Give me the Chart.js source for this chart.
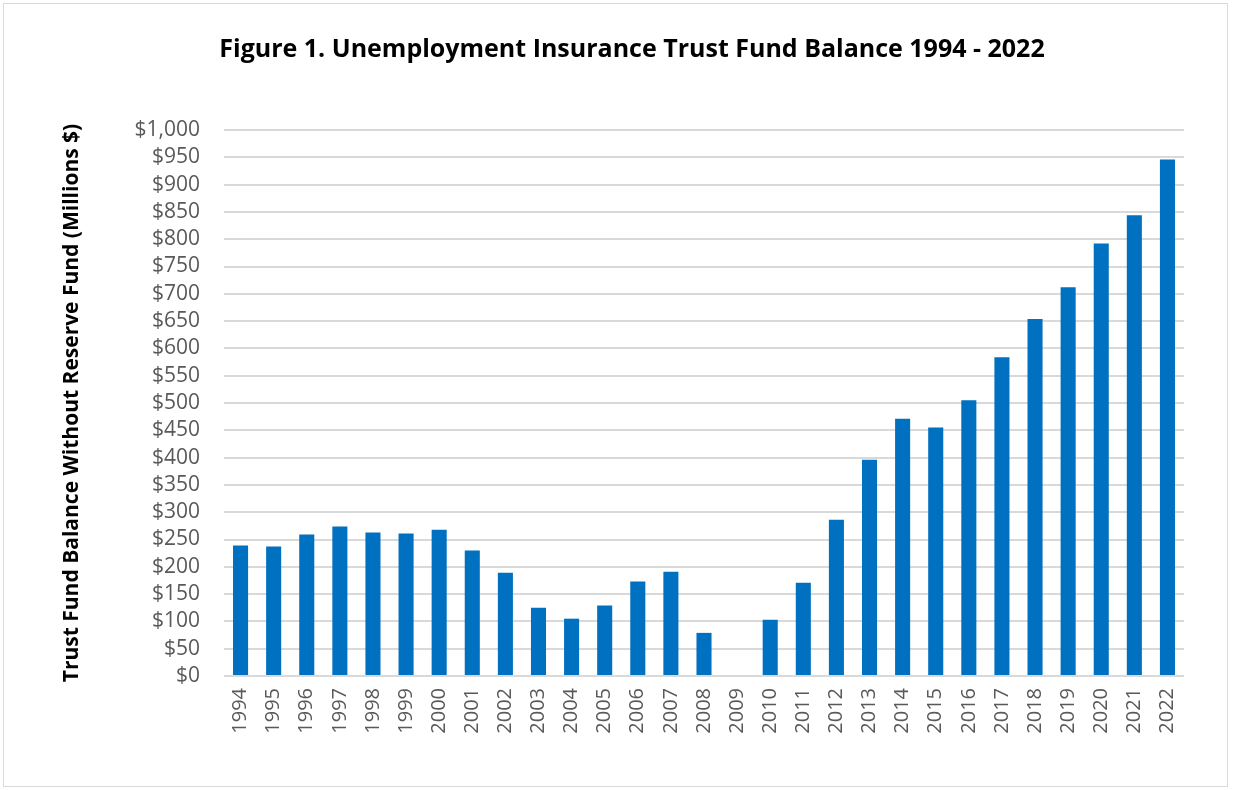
<!DOCTYPE html>
<html>
<head>
<meta charset="utf-8">
<title>Unemployment Insurance Trust Fund Balance 1994 - 2022</title>
<script src="https://cdn.jsdelivr.net/npm/chart.js@4.4.0/dist/chart.umd.min.js"></script>
<style>
    html, body { margin: 0; padding: 0; background: #fff; }
    #wrap { position: relative; width: 1233px; height: 790px; }
    #frame {
        position: absolute; left: 3px; top: 3px; width: 1223px; height: 782px;
        border: 1px solid #d9d9d9; pointer-events: none;
    }
</style>
</head>
<body>
<div id="wrap">
    <canvas id="fundChart" width="1233" height="790"></canvas>
    <div id="frame"></div>
</div>
<script>
// Data (millions $)
const years = ['1994', '1995', '1996', '1997', '1998', '1999', '2000', '2001', '2002', '2003',
    '2004', '2005', '2006', '2007', '2008', '2009', '2010', '2011', '2012', '2013',
    '2014', '2015', '2016', '2017', '2018', '2019', '2020', '2021', '2022'];
const balances = [239, 237, 259, 274, 263, 261, 268, 230, 189, 125,
    105, 129, 173, 191, 79, 0, 103, 171, 286, 396,
    471, 455, 505, 584, 654, 712, 792, 844, 946];

// Axis settings
const yMin = 0;
const yMax = 1000;
const yStep = 50;

const titleText = 'Figure 1. Unemployment Insurance Trust Fund Balance 1994 - 2022';
const yTitleText = 'Trust Fund Balance Without Reserve Fund (Millions $)';

const FONT = '"Open Sans", "DejaVu Sans", sans-serif';

// Title drawn across the whole canvas (Excel centres it on the chart, not the plot)
const pageTitle = {
    id: 'pageTitle',
    afterDraw(chart) {
        const ctx = chart.ctx;
        ctx.save();
        ctx.font = 'bold 25px ' + FONT;
        ctx.fillStyle = '#000';
        ctx.textAlign = 'center';
        ctx.textBaseline = 'middle';
        ctx.fillText(titleText, 632, 50);
        ctx.restore();
    }
};

new Chart(document.getElementById('fundChart'), {
    type: 'bar',
    data: {
        labels: years,
        datasets: [{
            data: balances,
            backgroundColor: '#0070c0',
            borderWidth: 0,
            barPercentage: 0.455,
            categoryPercentage: 1.0
        }]
    },
    options: {
        responsive: false,
        animation: false,
        layout: { padding: { left: 0, right: 49, top: 130, bottom: 0 } },
        plugins: {
            legend: { display: false },
            tooltip: { enabled: false },
            title: { display: false }
        },
        scales: {
            x: {
                grid: { display: false, drawTicks: false },
                border: { display: false },
                ticks: {
                    color: '#595959',
                    font: { family: FONT, size: 20 },
                    minRotation: 90,
                    maxRotation: 90,
                    autoSkip: false,
                    padding: 12
                },
                afterFit: function (scale) { scale.height = 114; }
            },
            y: {
                min: yMin,
                max: yMax,
                grid: { color: '#d9d9d9', lineWidth: 2, drawTicks: false },
                border: { display: false },
                ticks: {
                    stepSize: yStep,
                    autoSkip: false,
                    color: '#595959',
                    font: { family: FONT, size: 21 },
                    padding: 24,
                    callback: v => '$' + v.toLocaleString('en-US')
                },
                title: {
                    display: true,
                    text: yTitleText,
                    color: '#000',
                    font: { family: FONT, size: 21, weight: 'bold' },
                    padding: { top: 59 }
                },
                afterFit: function (scale) { scale.width = 224; }
            }
        }
    },
    plugins: [pageTitle]
});
</script>
</body>
</html>
